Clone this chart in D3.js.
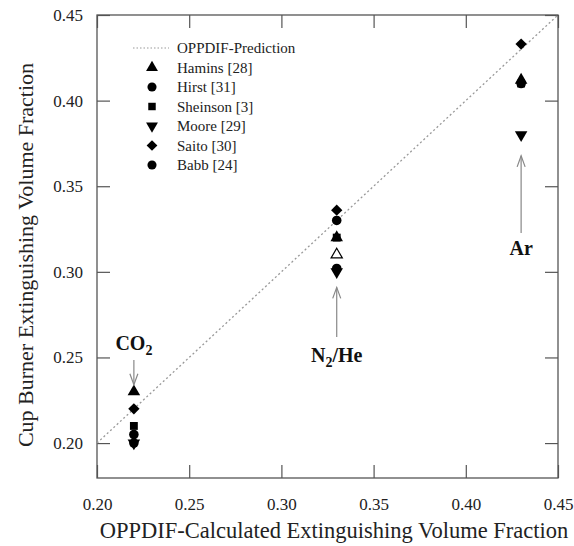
<!DOCTYPE html>
<html>
<head>
<meta charset="utf-8">
<script src="https://cdn.jsdelivr.net/npm/d3@7"></script>
<style>
  body { margin: 0; background: #fff; }
  text { font-family: "Liberation Serif", "Times New Roman", serif; }
</style>
</head>
<body>
<div id="chart"></div>
<script>
var width = 574,
    height = 546;

// calculated value for each agent (x)
var agents = ["CO2", "N2/He", "Ar"];
var calculated = [0.22, 0.33, 0.43];

// cup burner values, one per agent (null = no data)
var hamins   = [0.23, 0.32, 0.412];
var hirst    = [0.205, 0.33, 0.41];
var sheinson = [0.21, 0.32, 0.41];
var moore    = [0.20, 0.30, 0.38];
var saito    = [0.22, 0.336, 0.433];
var babb     = [0.20, 0.302, null];
var haminsHe = [null, 0.31, null];   // open triangle, not in legend

var xTicks = [0.20, 0.25, 0.30, 0.35, 0.40, 0.45];
var yTicks = [0.20, 0.25, 0.30, 0.35, 0.40, 0.45];

var series = [
    {name: "Hamins [28]",   values: hamins,   symbol: d3.symbolTriangle, size: 68, rot: 0,  fill: "#000", legend: true},
    {name: "Hirst [31]",    values: hirst,    symbol: d3.symbolCircle,   size: 72, rot: 0,  fill: "#000", legend: true},
    {name: "Sheinson [3]",  values: sheinson, symbol: d3.symbolSquare,   size: 62, rot: 0,  fill: "#000", legend: true},
    {name: "Moore [29]",    values: moore,    symbol: d3.symbolTriangle, size: 68, rot: 180, fill: "#000", legend: true},
    {name: "Saito [30]",    values: saito,    symbol: d3.symbolSquare,   size: 64, rot: 45, fill: "#000", legend: true},
    {name: "Babb [24]",     values: babb,     symbol: d3.symbolCircle,   size: 72, rot: 0,  fill: "#000", legend: true},
    {name: "Hamins He",     values: haminsHe, symbol: d3.symbolTriangle, size: 55, rot: 0,  fill: "#fff", legend: false}
];

var margin = {top: 15, right: 16, bottom: 68, left: 97};

var svg = d3.select("#chart").append("svg")
    .attr("width", width)
    .attr("height", height);

var x = d3.scaleLinear()
    .domain([0.20, 0.45])
    .range([margin.left, width - margin.right]);

var y = d3.scaleLinear()
    .domain([0.1796, 0.45])
    .range([height - margin.bottom, margin.top]);

var plotW = width - margin.right - margin.left,
    plotH = height - margin.bottom - margin.top;

var axisColor = "#555";
var tickLen = 13;

// inward ticks on all four sides
var gBottom = svg.append("g")
    .attr("transform", "translate(0," + (height - margin.bottom) + ")")
    .call(d3.axisBottom(x).tickValues(xTicks).tickSizeInner(-tickLen).tickSizeOuter(0).tickPadding(20).tickFormat(d3.format(".2f")));
var gTop = svg.append("g")
    .attr("transform", "translate(0," + margin.top + ")")
    .call(d3.axisTop(x).tickValues(xTicks).tickSizeInner(-tickLen).tickSizeOuter(0).tickFormat(""));
var gLeft = svg.append("g")
    .attr("transform", "translate(" + margin.left + ",0)")
    .call(d3.axisLeft(y).tickValues(yTicks).tickSizeInner(-tickLen).tickSizeOuter(0).tickPadding(14).tickFormat(d3.format(".2f")));
var gRight = svg.append("g")
    .attr("transform", "translate(" + (width - margin.right) + ",0)")
    .call(d3.axisRight(y).tickValues(yTicks).tickSizeInner(-tickLen).tickSizeOuter(0).tickFormat(""));

[gBottom, gTop, gLeft, gRight].forEach(function(g) {
    g.select(".domain").remove();
    g.selectAll("line").attr("stroke", axisColor).attr("stroke-width", 1.2);
    g.selectAll("text")
        .attr("fill", "#222")
        .style("font-size", "17px")
        .style("font-family", "'Liberation Serif', serif");
});

svg.append("rect")
    .attr("x", margin.left)
    .attr("y", margin.top)
    .attr("width", plotW)
    .attr("height", plotH)
    .attr("fill", "none")
    .attr("stroke", axisColor)
    .attr("stroke-width", 1.3);

// 1:1 prediction line
svg.append("line")
    .attr("x1", x(0.20)).attr("y1", y(0.20))
    .attr("x2", x(0.45)).attr("y2", y(0.45))
    .attr("stroke", "#999")
    .attr("stroke-width", 1.3)
    .attr("stroke-dasharray", "2,2.5");

// data markers
series.forEach(function(s) {
    var pts = [];
    s.values.forEach(function(v, i) { if (v != null) pts.push({x: calculated[i], y: v}); });
    svg.append("g").selectAll("path")
        .data(pts)
        .enter().append("path")
            .attr("d", d3.symbol().type(s.symbol).size(s.size))
            .attr("transform", function(d) {
                return "translate(" + x(d.x) + "," + y(d.y) + ") rotate(" + s.rot + ")";
            })
            .attr("fill", s.fill)
            .attr("stroke", "#000")
            .attr("stroke-width", s.fill == "#fff" ? 1.2 : 0);
});

// agent annotations with arrows
var notes = [
    {label: "CO", sub: "2", post: "", ty: 350, y0: 360, y1: hamins[0], gap: 7},
    {label: "N", sub: "2", post: "/He", ty: 362, y0: 337, y1: babb[1], gap: 19},
    {label: "Ar", sub: "", post: "", ty: 255, y0: 233, y1: moore[2], gap: 21}
];

notes.forEach(function(n, i) {
    var cx = x(calculated[i]);
    var from = n.y0, tip;
    if (n.y0 < y(n.y1)) tip = y(n.y1) - n.gap;   // pointing down
    else tip = y(n.y1) + n.gap;                 // pointing up
    svg.append("line")
        .attr("x1", cx).attr("y1", from)
        .attr("x2", cx).attr("y2", tip)
        .attr("stroke", "#888").attr("stroke-width", 1.2);
    var d = tip > from ? -1 : 1;
    svg.append("path")
        .attr("d", "M" + (cx - 4) + "," + (tip + d * 11) + "L" + cx + "," + tip + "L" + (cx + 4) + "," + (tip + d * 11))
        .attr("fill", "none")
        .attr("stroke", "#888")
        .attr("stroke-width", 1.2);

    var t = svg.append("text")
        .attr("x", cx)
        .attr("y", n.ty)
        .attr("text-anchor", "middle")
        .style("font-size", "20px")
        .style("font-weight", "bold")
        .attr("fill", "#111");
    t.append("tspan").text(n.label);
    if (n.sub) t.append("tspan").attr("dy", 5).style("font-size", "14px").text(n.sub);
    if (n.post) t.append("tspan").attr("dy", -5).text(n.post);
});

// legend
var legend = svg.append("g").attr("transform", "translate(133,48)");
legend.append("line")
    .attr("x1", 0).attr("x2", 36)
    .attr("stroke", "#999")
    .attr("stroke-width", 1.2)
    .attr("stroke-dasharray", "1.5,2");
legend.append("text")
    .attr("x", 44).attr("y", 5)
    .style("font-size", "15px")
    .attr("fill", "#222")
    .text("OPPDIF-Prediction");

series.filter(function(s) { return s.legend; }).forEach(function(s, i) {
    var ly = (i + 1) * 19.5;
    legend.append("path")
        .attr("d", d3.symbol().type(s.symbol).size(s.size * 0.9))
        .attr("transform", "translate(19," + ly + ") rotate(" + s.rot + ")")
        .attr("fill", "#000");
    legend.append("text")
        .attr("x", 44).attr("y", ly + 5)
        .style("font-size", "15px")
        .attr("fill", "#222")
        .text(s.name);
});

// axis titles
svg.append("text")
    .attr("x", 334)
    .attr("y", 538)
    .attr("text-anchor", "middle")
    .style("font-size", "22.5px")
    .attr("fill", "#222")
    .text("OPPDIF-Calculated Extinguishing Volume Fraction");

svg.append("text")
    .attr("transform", "translate(33," + 255 + ") rotate(-90)")
    .attr("text-anchor", "middle")
    .style("font-size", "22px")
    .attr("fill", "#222")
    .text("Cup Burner Extinguishing Volume Fraction");
</script>
</body>
</html>
